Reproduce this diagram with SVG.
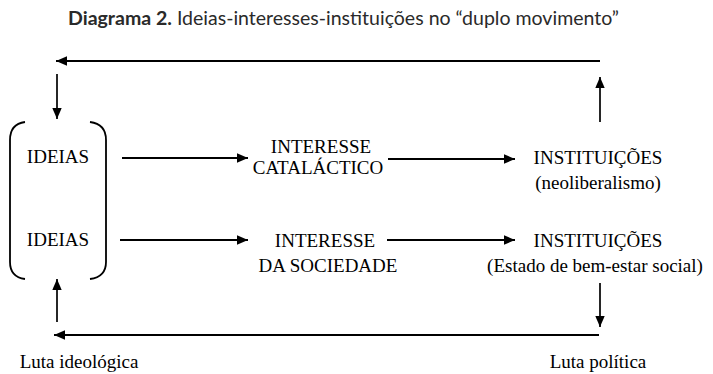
<svg xmlns="http://www.w3.org/2000/svg" width="713" height="374" viewBox="0 0 713 374">
<style>
.t{font-family:"Liberation Serif","Times New Roman",serif;font-size:19px;fill:#000}
.title{font-family:Lato,"Open Sans","Liberation Sans",sans-serif;font-size:18.5px;fill:#2a2a2a}
.ln{stroke:#000;stroke-width:2;fill:none}
.vl{stroke:#000;stroke-width:1.7;fill:none}
.br{stroke:#000;stroke-width:1.8;fill:none}
</style>
<defs>
<marker id="ah" markerUnits="userSpaceOnUse" markerWidth="12" markerHeight="10" refX="11" refY="4.7" orient="auto">
<path d="M0,0 L11,4.7 L0,9.4 z" fill="#000"/>
</marker>
</defs>
<rect width="713" height="374" fill="#fff"/>
<text class="title" x="68" y="25" textLength="551" lengthAdjust="spacingAndGlyphs"><tspan font-weight="bold">Diagrama 2.</tspan> Ideias-interesses-instituições no “duplo movimento”</text>

<g id="ideias-bracket">
<path class="br" d="M25,122 Q10,124 10,140 L10,262 Q10,277 25,279"/>
<path class="br" d="M90,122 Q106,124 106,140 L106,262 Q106,277 90,279"/>
</g>
<g id="ideias1"><text class="t" x="58" y="163" text-anchor="middle">IDEIAS</text></g>
<g id="ideias2"><text class="t" x="58" y="246" text-anchor="middle">IDEIAS</text></g>
<g id="interesse1"><text class="t" x="321" y="153" text-anchor="middle">INTERESSE</text><text class="t" x="318" y="174" text-anchor="middle">CATALÁCTICO</text></g>
<g id="interesse2"><text class="t" x="325" y="247" text-anchor="middle">INTERESSE</text><text class="t" x="328" y="272" text-anchor="middle">DA SOCIEDADE</text></g>
<g id="inst1"><text class="t" x="598" y="164" text-anchor="middle">INSTITUIÇÕES</text><text class="t" x="598" y="189" text-anchor="middle">(neoliberalismo)</text></g>
<g id="inst2"><text class="t" x="598" y="247" text-anchor="middle">INSTITUIÇÕES</text><text class="t" x="595" y="272" text-anchor="middle">(Estado de bem-estar social)</text></g>
<g id="luta-ideologica"><text class="t" x="79" y="368" text-anchor="middle" font-size="20">Luta ideológica</text></g>
<g id="luta-politica"><text class="t" x="598" y="368" text-anchor="middle" font-size="20">Luta política</text></g>

<g id="connectors">
<line class="ln" x1="600" y1="61" x2="56" y2="61" marker-end="url(#ah)"/>
<line class="vl" x1="57" y1="74" x2="57" y2="119" marker-end="url(#ah)"/>
<line class="vl" x1="600" y1="122" x2="600" y2="77" marker-end="url(#ah)"/>
<line class="ln" x1="122" y1="158" x2="248" y2="158" marker-end="url(#ah)"/>
<line class="ln" x1="120" y1="240" x2="248" y2="240" marker-end="url(#ah)"/>
<line class="ln" x1="388" y1="159" x2="515" y2="159" marker-end="url(#ah)"/>
<line class="ln" x1="387" y1="240" x2="515" y2="240" marker-end="url(#ah)"/>
<line class="vl" x1="600" y1="283" x2="600" y2="327" marker-end="url(#ah)"/>
<line class="ln" x1="599" y1="335" x2="54" y2="335" marker-end="url(#ah)"/>
<line class="vl" x1="57" y1="322" x2="57" y2="279" marker-end="url(#ah)"/>
</g>
</svg>
